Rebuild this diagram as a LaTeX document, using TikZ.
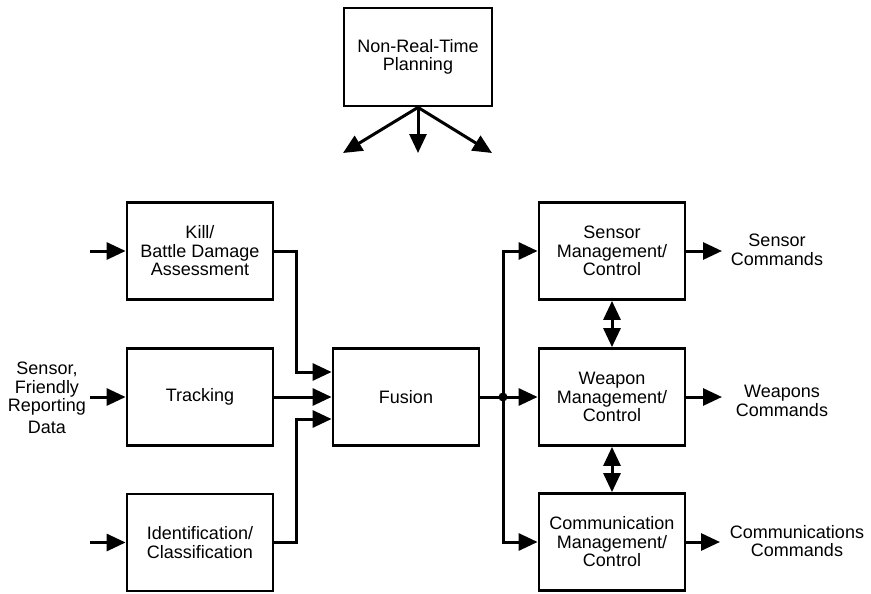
\documentclass[tikz,border=0pt]{standalone}
\usepackage{fontspec}
\setmainfont{Liberation Sans}
\usetikzlibrary{arrows.meta,calc}
\begin{document}
\begin{tikzpicture}[x=1pt,y=-1pt,
  every node/.style={font=\fontsize{18}{18.5}\selectfont, align=center, inner sep=0pt},
  blockbox/.style={draw, line width=2.8pt, minimum width=146pt, minimum height=97pt},
  conn/.style={line width=3pt},
  arr/.style={conn, -{Triangle[length=19pt,width=17pt]}},
  darr/.style={conn, {Triangle[length=19pt,width=17pt]}-{Triangle[length=19pt,width=17pt]}},
  lbl/.style={}]
\useasboundingbox (0,0) rectangle (871,594);
% blocks
\node[blockbox, minimum width=148pt, minimum height=98pt] (nrt) at (418,57) {Non-Real-Time\\Planning};
\node[blockbox] (kill) at (200,251) {Kill/\\Battle Damage\\Assessment};
\node[blockbox] (track) at (200,397) {Tracking};
\node[blockbox] (ident) at (200,542.5) {Identification/\\Classification};
\node[blockbox] (fusion) at (406,397) {Fusion};
\node[blockbox] (sensor) at (612,251) {Sensor\\Management/\\Control};
\node[blockbox] (weapon) at (612,397) {Weapon\\Management/\\Control};
\node[blockbox] (comm) at (612,542) {Communication\\Management/\\Control};
% labels
\node[lbl] (inlbl) at (47,398) {Sensor,\\Friendly\\Reporting\\[3pt]Data};
\node[lbl] (scmd) at (777,250) {Sensor\\Commands};
\node[lbl] (wcmd) at (782,401) {Weapons\\Commands};
\node[lbl] (ccmd) at (797,541) {Communications\\Commands};
% free ends
\coordinate (p1) at (343,153);
\coordinate (p2) at (418,153);
\coordinate (p3) at (492,153);
\coordinate (ik) at (90,251);
\coordinate (it) at (90,397);
\coordinate (ii) at (90,542.5);
\coordinate (jk) at (296,251);
\coordinate (ji) at (296,542.5);
\coordinate (fk) at ($(fusion.west)+(0,-25)$);
\coordinate (fi) at ($(fusion.west)+(0,22)$);
\coordinate (dot) at (503,397);
\coordinate (os) at (722,251);
\coordinate (ow) at (722,397);
\coordinate (oc) at (720,542);
% NRT arrows
\draw[arr] (nrt.south) -- (p1);
\draw[arr] (nrt.south) -- (p2);
\draw[arr] (nrt.south) -- (p3);
% inputs
\draw[arr] (ik) -- (kill.west);
\draw[arr] (it) -- (track.west);
\draw[arr] (ii) -- (ident.west);
% to fusion
\draw[arr] (kill.east) -- (jk) |- (fk);
\draw[arr] (track.east) -- (fusion.west);
\draw[arr] (ident.east) -- (ji) |- (fi);
% fusion out
\draw[arr] (fusion.east) -- (weapon.west);
\draw[arr] (dot) |- (sensor.west);
\draw[arr] (dot) |- (comm.west);
\fill (dot) circle (4.5pt);
% between managers
\draw[darr] (sensor.south) -- (weapon.north);
\draw[darr] (weapon.south) -- (comm.north);
% outputs
\draw[arr] (sensor.east) -- (os);
\draw[arr] (weapon.east) -- (ow);
\draw[arr] (comm.east) -- (oc);
\end{tikzpicture}
\end{document}
